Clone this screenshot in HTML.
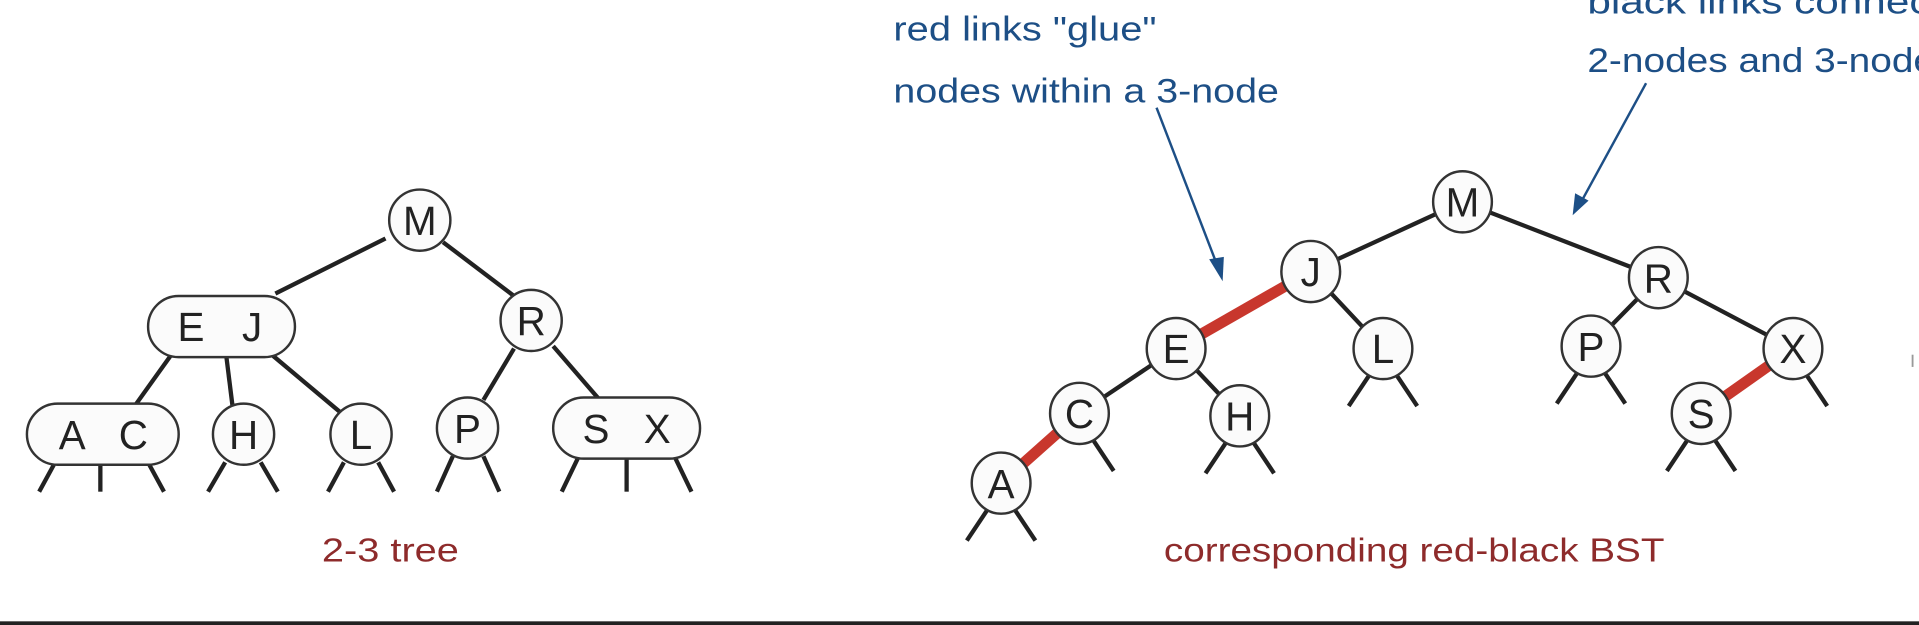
<!DOCTYPE html>
<html><head><meta charset="utf-8"><style>
html,body{margin:0;padding:0;background:#fff;width:1919px;height:625px;overflow:hidden}
svg{display:block}
text{font-family:"Liberation Sans",sans-serif}
</style></head><body>
<svg id="fig" width="1919" height="625" viewBox="0 0 1568 511" preserveAspectRatio="none" xmlns="http://www.w3.org/2000/svg">
<g id="edges"></g><g id="nodes"></g>
<text x="263" y="459" font-size="27" textLength="112" lengthAdjust="spacingAndGlyphs" fill="#8e2b2b">2-3 tree</text>
<text x="951" y="459" font-size="27" textLength="409" lengthAdjust="spacingAndGlyphs" fill="#8e2b2b">corresponding red-black BST</text>
<text x="730" y="33" font-size="28" textLength="215" lengthAdjust="spacingAndGlyphs" fill="#1d4f86">red links "glue"</text>
<text x="730" y="84" font-size="28" textLength="315" lengthAdjust="spacingAndGlyphs" fill="#1d4f86">nodes within a 3-node</text>
<text x="1297" y="11" font-size="28" textLength="290" lengthAdjust="spacingAndGlyphs" fill="#1d4f86">black links connect</text>
<text x="1297" y="59" font-size="28" textLength="300" lengthAdjust="spacingAndGlyphs" fill="#1d4f86">2-nodes and 3-nodes</text>
<g>
<line x1="945" y1="88" x2="995" y2="218" stroke="#1d4f86" stroke-width="2"/>
<polygon points="999,230 988,212 1000,210" fill="#1d4f86"/></g>
<g>
<line x1="1345" y1="68" x2="1292" y2="165" stroke="#1d4f86" stroke-width="2"/>
<polygon points="1285,176 1287,158 1298,164" fill="#1d4f86"/></g>
<rect x="1562" y="290" width="1.5" height="10" fill="#999"/>
<rect x="0" y="508" width="1568" height="3" fill="#222"/>
</svg>
<script>
// 2-3 tree nodes: [label, cx, cy, width]
const tNodes=[["M",343,180,50],["E J",181,267,120],["R",434,262,50],["A C",84,355,124],["H",199,355,50],["L",295,355,50],["P",382,350,50],["S X",512,350,120]];
const tEdges=[[315,195,225,240],[362,198,420,242],[140,290,110,332],[185,292,190,332],[222,290,278,337],[420,285,395,327],[452,283,490,327]];
const tStubs=[[44,380,32],[82,380,82],[122,380,134],[184,378,170],[213,378,227],[281,378,268],[309,378,322],[370,373,357],[395,373,408],[472,375,459],[512,375,512],[552,375,565]];
// red-black BST nodes: [label, cx, cy]
const rNodes=[["M",1195,165],["J",1071,222],["R",1355,227],["E",961,285],["L",1130,285],["P",1300,283],["X",1465,285],["C",882,338],["H",1013,340],["S",1390,338],["A",818,395]];
const rEdges=[["M","J",0],["M","R",0],["J","E",1],["J","L",0],["R","P",0],["R","X",0],["E","C",0],["E","H",0],["X","S",1],["C","A",1]];
const rStubs=[["A",-1],["A",1],["C",1],["H",-1],["H",1],["L",-1],["L",1],["P",-1],["P",1],["S",-1],["S",1],["X",1]];
const NS="http://www.w3.org/2000/svg";
const E=document.getElementById("edges"),N=document.getElementById("nodes");
function mk(t,a,p){const e=document.createElementNS(NS,t);for(const k in a)e.setAttribute(k,a[k]);p.appendChild(e);return e;}
tEdges.forEach(d=>{const l=mk("line",{x1:d[0],y1:d[1],x2:d[2],y2:d[3],stroke:"#222","stroke-width":3.5},E);

});
tStubs.forEach(d=>{const l=mk("line",{x1:d[0],y1:d[1],x2:d[2],y2:402,stroke:"#222","stroke-width":3.5},E);

});
tNodes.forEach(d=>{const g=mk("g",{},N);


mk("rect",{x:d[1]-d[3]/2,y:d[2]-25,width:d[3],height:50,rx:25,ry:25,fill:"#fbfbfb",stroke:"#333","stroke-width":2},g);
const parts=d[0].split(' ');
if(parts.length===1){const t=mk("text",{x:d[1],y:d[2]+12,"text-anchor":"middle","font-size":33,fill:"#222"},g);t.textContent=parts[0];}
else{parts.forEach((p,i)=>{const t=mk("text",{x:d[1]+(i?25:-25),y:d[2]+12,"text-anchor":"middle","font-size":33,fill:"#222"},g);t.textContent=p;});}
});
const pos={};rNodes.forEach(d=>pos[d[0]]=[d[1],d[2]]);
rEdges.forEach(d=>{const a=pos[d[0]],b=pos[d[1]];const l=mk("line",{x1:a[0],y1:a[1],x2:b[0],y2:b[1],stroke:d[2]?"#c8372d":"#222","stroke-width":d[2]?9:3.5},E);

});
rStubs.forEach(d=>{const p=pos[d[0]];const l=mk("line",{x1:p[0]+d[1]*10,y1:p[1]+20,x2:p[0]+d[1]*28,y2:p[1]+47,stroke:"#222","stroke-width":3.5},E);

});
rNodes.forEach(d=>{const g=mk("g",{},N);


mk("ellipse",{cx:d[1],cy:d[2],rx:24,ry:25,fill:"#fbfbfb",stroke:"#333","stroke-width":2},g);
const t=mk("text",{x:d[1],y:d[2]+12,"text-anchor":"middle","font-size":33,fill:"#222"},g);t.textContent=d[0];});
</script>
</body></html>
